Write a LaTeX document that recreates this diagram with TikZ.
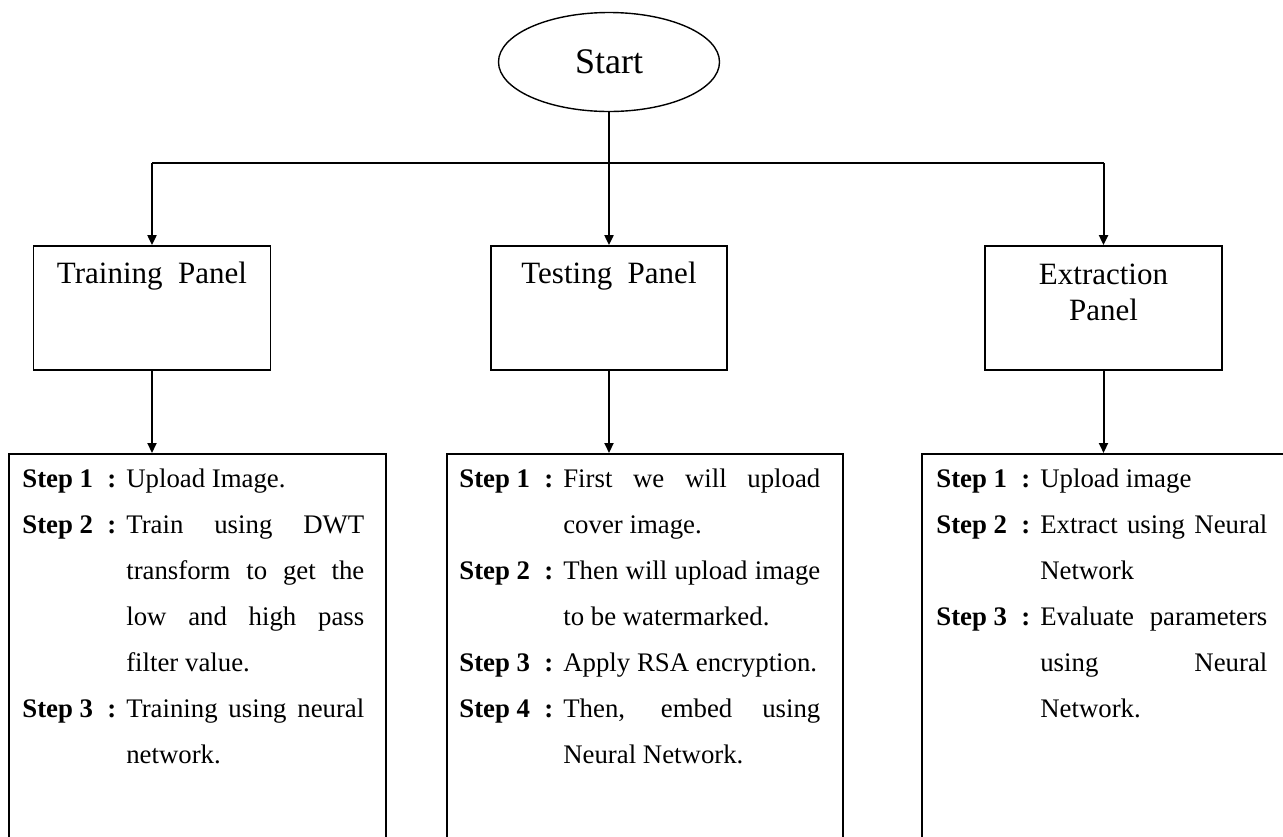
\documentclass[tikz,border=0pt]{standalone}
\usepackage{fontspec}
\setmainfont{Liberation Serif}
\usetikzlibrary{positioning,arrows.meta,shapes.geometric}
\newcommand{\pasostab}[2]{\begin{tabular}[t]{@{}p{42.5pt}@{}l@{\hspace{5pt}}p{#1}@{}}#2\end{tabular}}

\begin{document}
\begin{tikzpicture}[x=0.5pt, y=-0.5pt,
  caja/.style={draw, line width=0.9pt, inner sep=0pt},
  titulo/.style={anchor=north, inner sep=0pt, align=center, font=\fontsize{15.5}{18}\selectfont},
  pasos/.style={anchor=north west, inner sep=0pt, font=\fontsize{13.4}{23}\selectfont},
  flecha/.style={-{Triangle[length=5pt,width=4.5pt]}, line width=1pt}]
  \clip (0,0) rectangle (1283,836);
  \node[draw, ellipse, line width=0.7pt, minimum width=110.5pt, minimum height=49.5pt,
    font=\fontsize{18}{22}\selectfont] (start) at (609,62) {Start};
  \coordinate (bar) at (609,163);
  % paneles
  \node[caja, minimum width=118.5pt, minimum height=62pt] (train) at (152,308) {};
  \node[caja, minimum width=118pt, minimum height=62pt] (test) at (609,308) {};
  \node[caja, minimum width=118.5pt, minimum height=62pt] (extract) at (1103.5,308) {};
  \node[titulo] at ([yshift=-8pt]train.north) {Training~~Panel};
  \node[titulo] at ([yshift=-8pt]test.north) {Testing~~Panel};
  \node[titulo] at ([yshift=-9pt]extract.north) {Extraction\\Panel};
  % cajas de pasos
  \node[caja, anchor=north west, minimum width=188.5pt, minimum height=240pt] (trainsteps) at (8,453) {};
  \node[caja, anchor=north west, minimum width=198pt, minimum height=240pt] (teststeps) at (446,453) {};
  \node[caja, anchor=north west, minimum width=189.5pt, minimum height=240pt] (extractsteps) at (921,453) {};
  \node[pasos] at ([xshift=7pt, yshift=-1pt]trainsteps.north west) {\pasostab{119pt}{%
    \textbf{Step 1} & \textbf{:} & Upload Image.\\
    \textbf{Step 2} & \textbf{:} & Train using DWT\linebreak transform to get the\linebreak low and high pass\linebreak filter value.\\
    \textbf{Step 3} & \textbf{:} & Training using neural\linebreak network.}};
  \node[pasos] at ([xshift=6.5pt, yshift=-1pt]teststeps.north west) {\pasostab{128.5pt}{%
    \textbf{Step 1} & \textbf{:} & First we will upload\linebreak cover image.\\
    \textbf{Step 2} & \textbf{:} & Then will upload image\linebreak to be watermarked.\\
    \textbf{Step 3} & \textbf{:} & Apply RSA encryption.\\
    \textbf{Step 4} & \textbf{:} & Then, embed using\linebreak Neural Network.}};
  \node[pasos] at ([xshift=7.5pt, yshift=-1pt]extractsteps.north west) {\pasostab{113.5pt}{%
    \textbf{Step 1} & \textbf{:} & Upload image\\
    \textbf{Step 2} & \textbf{:} & Extract using Neural\linebreak Network\\
    \textbf{Step 3} & \textbf{:} & Evaluate parameters\linebreak using Neural\linebreak Network.}};
  % conexiones
  \draw[line width=0.7pt] (train |- bar) -- (extract |- bar);
  \draw[flecha] (start) -- (test);
  \draw[flecha] (train |- bar) -- (train);
  \draw[flecha] (extract |- bar) -- (extract);
  \draw[flecha] (train) -- (train |- trainsteps.north);
  \draw[flecha] (test) -- (test |- teststeps.north);
  \draw[flecha] (extract) -- (extract |- extractsteps.north);
\end{tikzpicture}
\end{document}
